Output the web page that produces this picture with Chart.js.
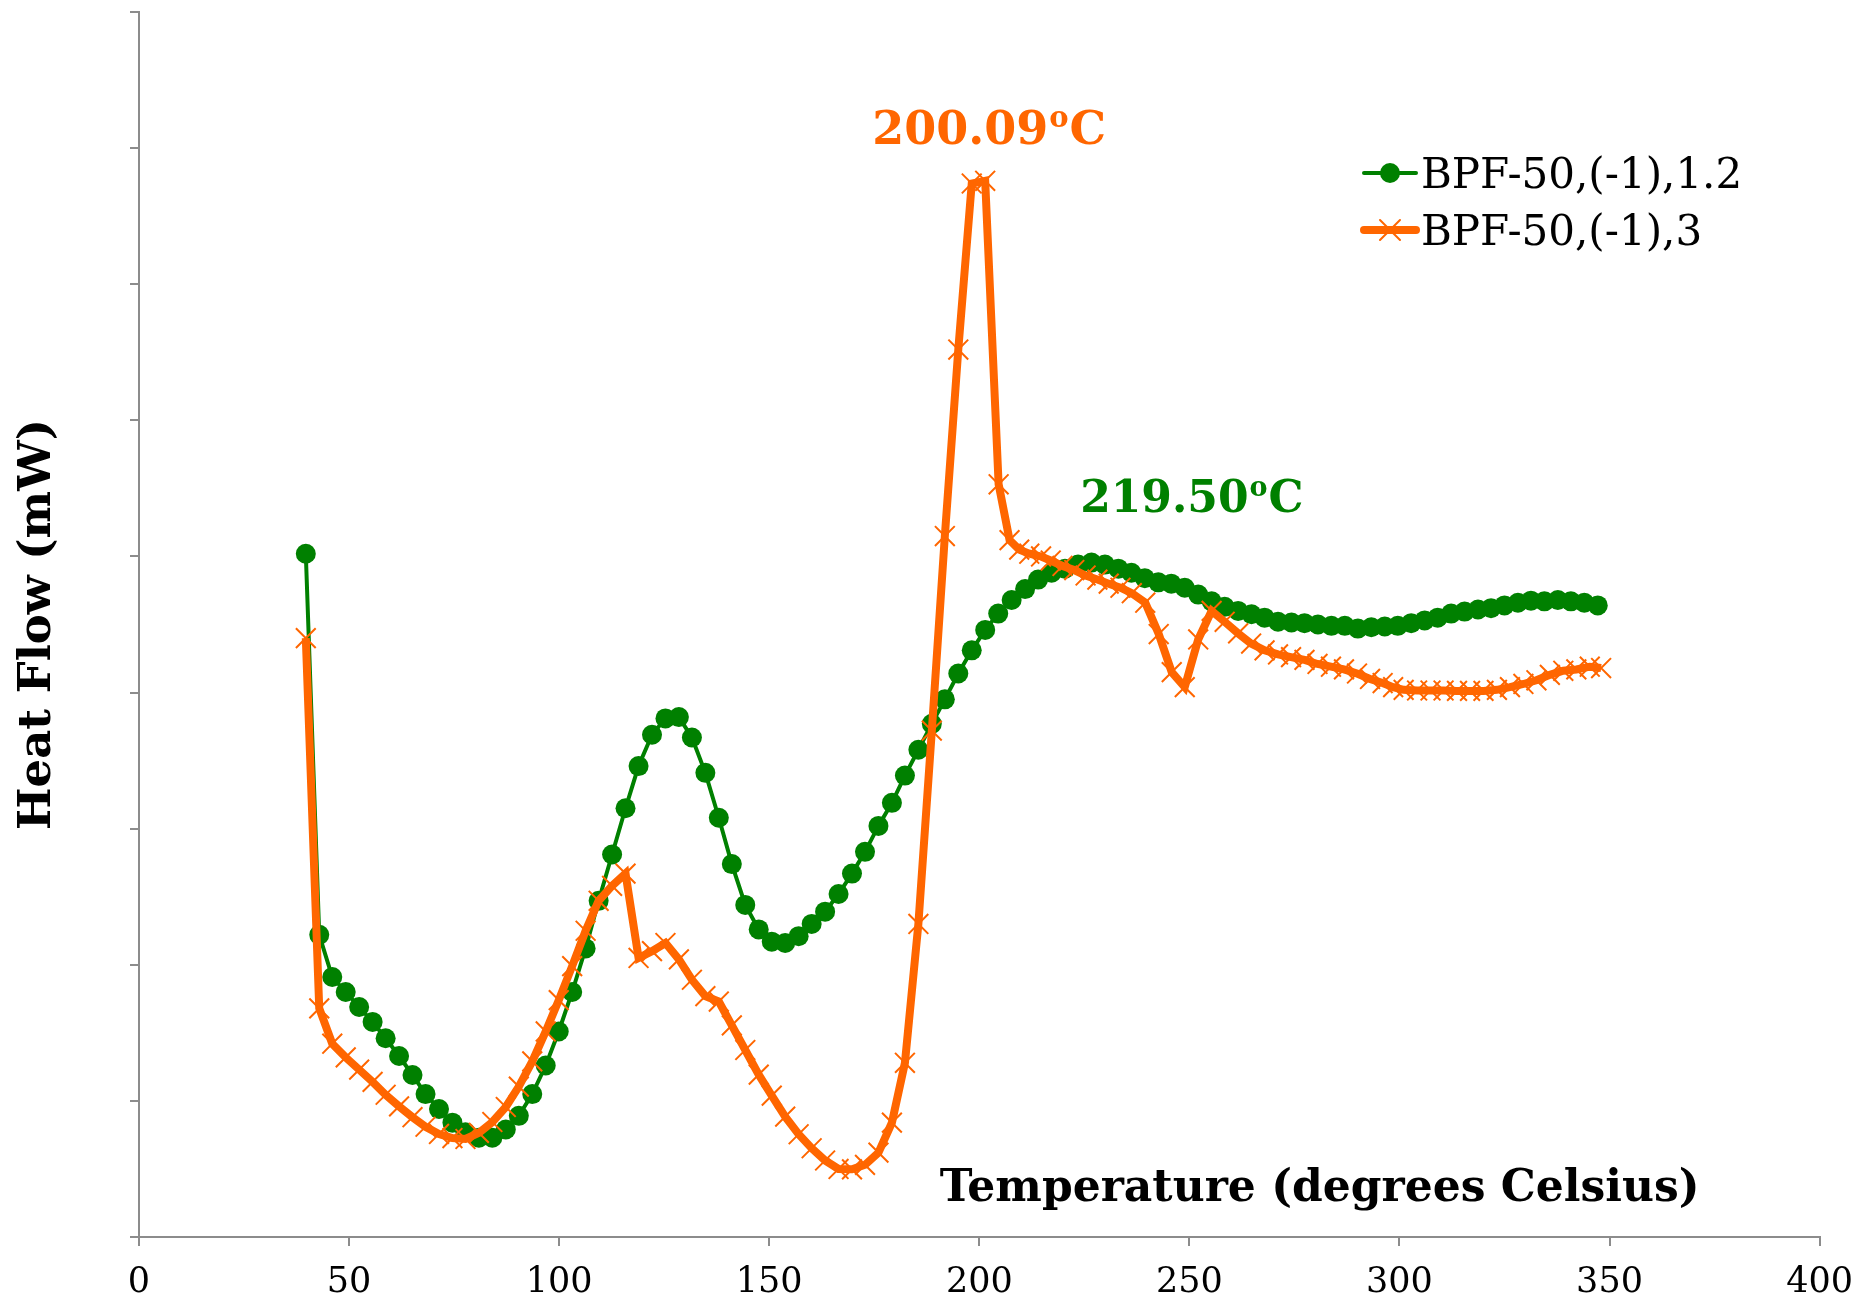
<!DOCTYPE html>
<html lang="en">
<head>
    <meta charset="UTF-8">
    <title>Heat Flow</title>
    <script src="https://cdn.jsdelivr.net/npm/chart.js"></script>
    <style>
        body { margin: 0; background: #fff; }
        #wrap { width: 1869px; height: 1304px; position: relative; }
    </style>
</head>
<body>
<div id="wrap"><canvas id="dscChart"></canvas></div>
<script>
    // temperatures (degrees Celsius) and heat flow readings
    const greenTemps = [39.7, 42.9, 46.0, 49.2, 52.4, 55.6, 58.7, 61.9, 65.1, 68.2,
        71.4, 74.6, 77.7, 80.9, 84.1, 87.3, 90.4, 93.6, 96.8, 99.9,
        103.1, 106.3, 109.4, 112.6, 115.8, 118.9, 122.1, 125.3, 128.5, 131.6,
        134.8, 138.0, 141.1, 144.3, 147.5, 150.6, 153.8, 157.0, 160.1, 163.3,
        166.5, 169.7, 172.8, 176.0, 179.2, 182.3, 185.5, 188.7, 191.8, 195.0,
        198.2, 201.4, 204.5, 207.7, 210.9, 214.0, 217.2, 220.4, 223.5, 226.7,
        229.9, 233.1, 236.2, 239.4, 242.6, 245.7, 248.9, 252.1, 255.3, 258.4,
        261.6, 264.8, 267.9, 271.1, 274.3, 277.4, 280.6, 283.8, 287.0, 290.1,
        293.3, 296.5, 299.6, 302.8, 306.0, 309.1, 312.3, 315.5, 318.7, 321.8,
        325.0, 328.2, 331.3, 334.5, 337.7, 340.8, 344.0, 347.2];
    const greenFlow = [5.02, 2.22, 1.91, 1.80, 1.69, 1.58, 1.46, 1.33, 1.19, 1.05,
        0.94, 0.84, 0.77, 0.73, 0.73, 0.79, 0.89, 1.05, 1.26, 1.51,
        1.80, 2.12, 2.47, 2.81, 3.15, 3.46, 3.69, 3.81, 3.82, 3.67,
        3.41, 3.08, 2.74, 2.44, 2.26, 2.17, 2.16, 2.21, 2.30, 2.39,
        2.52, 2.67, 2.83, 3.02, 3.19, 3.39, 3.58, 3.77, 3.95, 4.14,
        4.31, 4.46, 4.58, 4.68, 4.76, 4.83, 4.88, 4.91, 4.94, 4.955,
        4.94, 4.91, 4.88, 4.84, 4.81, 4.80, 4.77, 4.72, 4.67, 4.63,
        4.60, 4.575, 4.55, 4.52, 4.515, 4.51, 4.50, 4.49, 4.49, 4.47,
        4.48, 4.485, 4.49, 4.51, 4.53, 4.55, 4.58, 4.595, 4.61, 4.62,
        4.64, 4.66, 4.675, 4.67, 4.68, 4.67, 4.66, 4.64];

    const orangeTemps = [39.7, 42.9, 46.0, 49.2, 52.4, 55.6, 58.7, 61.9, 65.1, 68.2,
        71.4, 74.6, 77.7, 80.9, 84.1, 87.3, 90.4, 93.6, 96.8, 99.9,
        103.1, 106.3, 109.4, 112.6, 115.8, 118.9, 122.1, 125.3, 128.5, 131.6,
        134.8, 138.0, 141.1, 144.3, 147.5, 150.6, 153.8, 157.0, 160.1, 163.3,
        166.5, 169.7, 172.8, 176.0, 179.2, 182.3, 185.5, 188.7, 191.8, 195.0,
        198.2, 201.4, 204.6, 207.2, 209.5, 211.9, 214.7, 217.0, 219.8, 222.6,
        225.3, 228.1, 230.8, 233.6, 236.3, 239.5, 242.7, 245.8, 248.9, 252.1,
        255.3, 258.4, 261.6, 264.7, 267.9, 271.1, 274.2, 277.4, 280.5, 283.7,
        286.8, 289.9, 293.0, 296.0, 298.5, 301.0, 304.2, 307.4, 310.5, 313.7,
        316.8, 320.0, 323.2, 326.3, 329.5, 332.6, 335.8, 339.0, 342.1, 345.3,
        348.0];
    const orangeFlow = [4.40, 1.68, 1.42, 1.32, 1.23, 1.14, 1.045, 0.96, 0.88, 0.81,
        0.757, 0.727, 0.72, 0.765, 0.845, 0.955, 1.105, 1.29, 1.51, 1.74,
        1.99, 2.25, 2.47, 2.58, 2.67, 2.05, 2.10, 2.16, 2.04, 1.89,
        1.77, 1.73, 1.555, 1.374, 1.193, 1.039, 0.884, 0.755, 0.652, 0.562,
        0.50, 0.497, 0.53, 0.62, 0.84, 1.28, 2.30, 3.72, 5.15, 6.52,
        7.74, 7.76, 5.53, 5.12, 5.05, 5.02, 5.00, 4.97, 4.93, 4.90,
        4.86, 4.83, 4.80, 4.77, 4.73, 4.66, 4.43, 4.15, 4.04, 4.39,
        4.60, 4.52, 4.435, 4.36, 4.31, 4.28, 4.26, 4.24, 4.21, 4.19,
        4.17, 4.14, 4.10, 4.07, 4.04, 4.02, 4.015, 4.015, 4.015, 4.012,
        4.012, 4.012, 4.02, 4.04, 4.063, 4.09, 4.13, 4.16, 4.17, 4.19,
        4.18];

    const seriesNames = ['BPF-50,(-1),1.2', 'BPF-50,(-1),3'];
    const peakLabels = ['219.50', '200.09'];
    const xTicks = [0, 50, 100, 150, 200, 250, 300, 350, 400];

    const GREEN = '#008000';
    const ORANGE = '#FF6600';
    const AXIS = '#8c8c8c';
    const SERIF = '"DejaVu Serif", "Liberation Serif", serif';

    function toPoints(xs, ys) {
        return xs.map((x, i) => ({ x: x, y: ys[i] }));
    }

    // label like 200.09 with a raised small "o" then "C"
    function degreeLabel(ctx, num, x, y, size, color) {
        ctx.save();
        ctx.fillStyle = color;
        ctx.textAlign = 'left';
        ctx.textBaseline = 'alphabetic';
        ctx.font = 'bold ' + size + 'px ' + SERIF;
        ctx.fillText(num, x, y);
        let w = ctx.measureText(num).width;
        ctx.font = 'bold ' + Math.round(size * 0.62) + 'px ' + SERIF;
        ctx.fillText('o', x + w + 1, y - size * 0.36);
        w += ctx.measureText('o').width + 2;
        ctx.font = 'bold ' + size + 'px ' + SERIF;
        ctx.fillText('C', x + w, y);
        ctx.restore();
    }

    const extrasPlugin = {
        id: 'extras',
        afterDraw(chart) {
            const ctx = chart.ctx;
            const xs = chart.scales.x;
            const ys = chart.scales.y;

            // x axis title sits inside the plot, bottom right
            ctx.save();
            ctx.fillStyle = '#000';
            ctx.font = 'bold 44px ' + SERIF;
            ctx.textAlign = 'center';
            ctx.textBaseline = 'alphabetic';
            ctx.fillText('Temperature (degrees Celsius)', xs.getPixelForValue(281), ys.getPixelForValue(0.265));
            ctx.restore();

            // peak annotations
            degreeLabel(ctx, peakLabels[1], xs.getPixelForValue(174.5), ys.getPixelForValue(8.03), 46, ORANGE);
            degreeLabel(ctx, peakLabels[0], xs.getPixelForValue(224), ys.getPixelForValue(5.33), 44, GREEN);

            // legend: line sample with marker, then name
            const rows = [
                { y: 173, color: GREEN, width: 4, mark: 'dot' },
                { y: 230, color: ORANGE, width: 8, mark: 'cross' }
            ];
            rows.forEach((r, i) => {
                ctx.save();
                ctx.strokeStyle = r.color;
                ctx.fillStyle = r.color;
                ctx.lineCap = 'round';
                ctx.lineWidth = r.width;
                ctx.beginPath();
                ctx.moveTo(1364, r.y);
                ctx.lineTo(1416, r.y);
                ctx.stroke();
                if (r.mark === 'dot') {
                    ctx.beginPath();
                    ctx.arc(1390, r.y, 10, 0, Math.PI * 2);
                    ctx.fill();
                } else {
                    ctx.lineWidth = 2;
                    ctx.beginPath();
                    ctx.moveTo(1380, r.y - 10); ctx.lineTo(1400, r.y + 10);
                    ctx.moveTo(1400, r.y - 10); ctx.lineTo(1380, r.y + 10);
                    ctx.stroke();
                }
                ctx.fillStyle = '#000';
                ctx.font = '42px ' + SERIF;
                ctx.textBaseline = 'alphabetic';
                ctx.fillText(seriesNames[i], 1421, r.y + 15);
                ctx.restore();
            });
        }
    };

    const config = {
        type: 'line',
        data: {
            datasets: [
                {
                    label: seriesNames[0],
                    data: toPoints(greenTemps, greenFlow),
                    borderColor: GREEN,
                    backgroundColor: GREEN,
                    borderWidth: 4,
                    pointStyle: 'circle',
                    pointRadius: 10,
                    pointBorderWidth: 0,
                    pointBackgroundColor: GREEN,
                    tension: 0,
                    order: 2
                },
                {
                    label: seriesNames[1],
                    data: toPoints(orangeTemps, orangeFlow),
                    borderColor: ORANGE,
                    backgroundColor: ORANGE,
                    borderWidth: 8,
                    pointStyle: 'crossRot',
                    pointRadius: 14,
                    pointBorderWidth: 2,
                    pointBorderColor: ORANGE,
                    tension: 0,
                    order: 1
                }
            ]
        },
        options: {
            responsive: true,
            maintainAspectRatio: false,
            animation: false,
            devicePixelRatio: 1,
            layout: { autoPadding: false, padding: { left: 7, right: 39, top: 12, bottom: 0 } },
            plugins: {
                legend: { display: false },
                tooltip: { enabled: false }
            },
            scales: {
                x: {
                    type: 'linear',
                    min: 0,
                    max: 400,
                    afterBuildTicks: (scale) => { scale.ticks = xTicks.map(v => ({ value: v })); },
                    afterFit: (scale) => { scale.height = 67; },
                    grid: { drawOnChartArea: false, drawTicks: true, tickLength: 9, color: AXIS, lineWidth: 2 },
                    border: { color: AXIS, width: 2 },
                    ticks: {
                        color: '#000',
                        padding: 16,
                        maxRotation: 0,
                        font: { family: SERIF, size: 35 }
                    }
                },
                y: {
                    min: 0,
                    max: 9,
                    afterFit: (scale) => { scale.width = 132; },
                    grid: { drawOnChartArea: false, drawTicks: true, tickLength: 9, color: AXIS, lineWidth: 2 },
                    border: { color: AXIS, width: 2 },
                    ticks: { display: false, stepSize: 1 },
                    title: {
                        display: true,
                        text: 'Heat Flow (mW)',
                        color: '#000',
                        font: { family: SERIF, size: 45, weight: 'bold' },
                        padding: { top: 4, bottom: 66 }
                    }
                }
            }
        },
        plugins: [extrasPlugin]
    };

    const ctx = document.getElementById('dscChart').getContext('2d');
    const dscChart = new Chart(ctx, config);
</script>
</body>
</html>
